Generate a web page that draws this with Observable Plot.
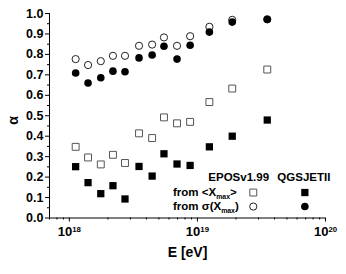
<!DOCTYPE html>
<html>
<head>
<meta charset="utf-8">
<script src="https://cdn.jsdelivr.net/npm/d3@7"></script>
<script src="https://cdn.jsdelivr.net/npm/@observablehq/plot@0.6"></script>
<style>
  html, body { margin: 0; padding: 0; background: #fff; }
  #chart svg { display: block; }
</style>
</head>
<body>
<div id="chart"></div>
<script>
// Energy bins (eV)
const energy = [1.12e18, 1.40e18, 1.76e18, 2.19e18, 2.72e18, 3.50e18, 4.43e18, 5.48e18, 6.93e18, 8.77e18, 1.24e19, 1.87e19, 3.51e19];
// alpha from <Xmax>
const alphaEposMean = [0.348, 0.296, 0.262, 0.309, 0.269, 0.414, 0.391, 0.492, 0.463, 0.470, 0.567, 0.633, 0.726];
const alphaQgsMean  = [0.251, 0.173, 0.119, 0.158, 0.093, 0.252, 0.205, 0.314, 0.264, 0.257, 0.348, 0.400, 0.479];
// alpha from sigma(Xmax)
const alphaEposSigma = [0.777, 0.748, 0.767, 0.793, 0.793, 0.842, 0.848, 0.883, 0.842, 0.889, 0.935, 0.969, 0.972];
const alphaQgsSigma  = [0.709, 0.660, 0.686, 0.718, 0.715, 0.783, 0.797, 0.840, 0.777, 0.845, 0.909, 0.958, 0.971];

// axis ticks
const yMajor = [0, 0.1, 0.2, 0.3, 0.4, 0.5, 0.6, 0.7, 0.8, 0.9, 1.0];
const yMinor = [0.05, 0.15, 0.25, 0.35, 0.45, 0.55, 0.65, 0.75, 0.85, 0.95];
const xMajor = [1e18, 1e19, 1e20];
const xMinor = [7e17, 8e17, 9e17, 2e18, 3e18, 4e18, 5e18, 6e18, 7e18, 8e18, 9e18, 2e19, 3e19, 4e19, 5e19, 6e19, 7e19, 8e19, 9e19];

// legend (in data coordinates)
const legendHeaders = ["EPOSv1.99", "QGSJETII"];
const legendHeaderE = [2.10e19, 6.78e19];
const legendHeaderAlpha = 0.198;
const legendRows = ["from <X_{max}>", "from \u03c3(X_{max})"];
const legendRowAlpha = [0.1245, 0.056];
const legendRowE = 6.45e18;
const legendSymE = [2.73e19, 6.9e19];

const font = "'Liberation Sans', Arial, sans-serif";

const meanE = energy.map((e, i) => ({e, a: alphaEposMean[i]}));
const meanQ = energy.map((e, i) => ({e, a: alphaQgsMean[i]}));
const sigE = energy.map((e, i) => ({e, a: alphaEposSigma[i]}));
const sigQ = energy.map((e, i) => ({e, a: alphaQgsSigma[i]}));

const powLabel = d => "10^{" + Math.round(Math.log10(d)) + "}";

const plot = Plot.plot({
  width: 346,
  height: 274,
  marginLeft: 49,
  marginRight: 21,
  marginTop: 13,
  marginBottom: 56.5,
  style: {fontFamily: font, fontWeight: "bold", background: "#fff", color: "#000"},
  x: {type: "log", domain: [7e17, 1e20]},
  y: {domain: [0, 1]},
  marks: [
    // axis lines
    Plot.ruleX([7e17], {stroke: "#000", strokeWidth: 1}),
    Plot.ruleY([0], {stroke: "#000", strokeWidth: 1}),
    // y axis
    Plot.axisY(yMajor, {tickSize: 4, tickPadding: 2, tickFormat: d3.format(".1f"), fontSize: 12.5, fontWeight: "bold", label: null}),
    Plot.axisY(yMinor, {tickSize: 2, tickFormat: () => "", label: null}),
    // x axis
    Plot.axisX(xMajor, {tickSize: 4, tickPadding: 5, tickFormat: powLabel, fontSize: 13, fontWeight: "bold", label: null}),
    Plot.axisX(xMinor, {tickSize: 2, tickFormat: () => "", label: null}),
    // axis titles
    Plot.text(["E [eV]"], {frameAnchor: "bottom", dy: 35, fontSize: 14, fontWeight: "bold", textAnchor: "middle", lineAnchor: "middle"}),
    Plot.text(["\u03b1"], {frameAnchor: "left", dx: -36, dy: 9, rotate: -90, fontSize: 14, fontWeight: "bold", lineAnchor: "middle"}),
    // data
    Plot.dot(meanE, {x: "e", y: "a", symbol: "square", r: 3.9, fill: "#fff", stroke: "#555", strokeWidth: 1}),
    Plot.dot(meanQ, {x: "e", y: "a", symbol: "square", r: 4.1, fill: "#000", stroke: "none"}),
    Plot.dot(sigE, {x: "e", y: "a", symbol: "circle", r: 3.6, fill: "#fff", stroke: "#222", strokeWidth: 1}),
    Plot.dot(sigQ, {x: "e", y: "a", symbol: "circle", r: 3.8, fill: "#000", stroke: "none"}),
    // legend
    Plot.text(legendHeaders, {x: (d, i) => legendHeaderE[i], y: () => legendHeaderAlpha, text: d => d, fontSize: 11.5, fontWeight: "bold", textAnchor: "middle", lineAnchor: "middle"}),
    Plot.text(legendRows, {x: () => legendRowE, y: (d, i) => legendRowAlpha[i], text: d => d, fontSize: 11.5, fontWeight: "bold", textAnchor: "start", lineAnchor: "middle"}),
    Plot.dot([0], {x: () => legendSymE[0], y: () => legendRowAlpha[0], symbol: "square", r: 3.9, fill: "#fff", stroke: "#555", strokeWidth: 1}),
    Plot.dot([0], {x: () => legendSymE[1], y: () => legendRowAlpha[0], symbol: "square", r: 4.1, fill: "#000", stroke: "none"}),
    Plot.dot([0], {x: () => legendSymE[0], y: () => legendRowAlpha[1], symbol: "circle", r: 3.6, fill: "#fff", stroke: "#222", strokeWidth: 1}),
    Plot.dot([0], {x: () => legendSymE[1], y: () => legendRowAlpha[1], symbol: "circle", r: 3.8, fill: "#000", stroke: "none"})
  ]
});

// convert ^{..} / _{..} into real superscript / subscript tspans
d3.select(plot).selectAll("text").each(function() {
  const t = this.textContent;
  if (!/[\^_]\{/.test(t)) return;
  const sel = d3.select(this);
  const parts = t.split(/([\^_]\{[^}]*\})/).filter(s => s.length);
  sel.text(null);
  let shift = 0;
  for (const p of parts) {
    const m = p.match(/^([\^_])\{([^}]*)\}$/);
    if (m) {
      const up = m[1] === "^";
      const d = up ? -0.5 : 0.35;
      sel.append("tspan").attr("font-size", "0.6em").attr("dy", d + "em").text(m[2]);
      shift = d;
    } else {
      const ts = sel.append("tspan").text(p);
      if (shift !== 0) { ts.attr("dy", (-shift * 0.6) + "em"); shift = 0; }
    }
  }
});

document.getElementById("chart").appendChild(plot);
</script>
</body>
</html>
